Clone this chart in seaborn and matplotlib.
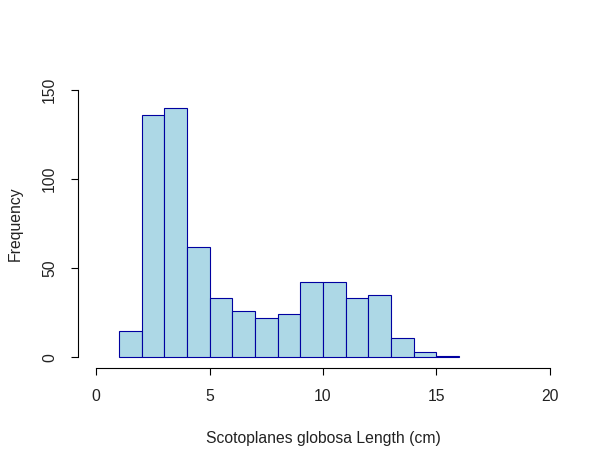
import numpy as np
import matplotlib
matplotlib.use("Agg")
import matplotlib.pyplot as plt
import seaborn as sns

# histogram counts (bins of width 1 cm, from 1 to 16)
bin_edges = [1, 2, 3, 4, 5, 6, 7, 8, 9, 10, 11, 12, 13, 14, 15, 16]
counts = [15, 136, 140, 62, 33, 26, 22, 24, 42, 42, 33, 35, 11, 3, 1]
x_ticks = [0, 5, 10, 15, 20]
y_ticks = [0, 50, 100, 150]

bin_mids = [(a + b) / 2 for a, b in zip(bin_edges[:-1], bin_edges[1:])]

sns.set_style("white")
plt.rcParams['font.family'] = ['Liberation Sans', 'DejaVu Sans']

fig = plt.figure(figsize=(6.09, 4.66), dpi=100)
ax = fig.add_axes([78 / 609, 1 - 368 / 466, 490 / 609, 289 / 466])

sns.histplot(x=bin_mids, weights=counts, bins=bin_edges, ax=ax,
             color="#ADD8E6", edgecolor="#0000A0", linewidth=0.8, alpha=1)

ax.set_xlim(-0.8, 20.8)
ax.set_ylim(-6, 156)
ax.set_xticks(x_ticks)
ax.set_yticks(y_ticks)

for s in ["top", "right"]:
    ax.spines[s].set_visible(False)
for s in ["left", "bottom"]:
    ax.spines[s].set_color("black")
    ax.spines[s].set_linewidth(0.8)
ax.spines["bottom"].set_bounds(0, 20)
ax.spines["left"].set_bounds(0, 150)

ax.tick_params(axis="both", direction="out", length=5.2, width=0.8,
               color="black", labelsize=11.3, pad=10, labelcolor="#222222")
ax.tick_params(axis="both", bottom=True, left=True)
plt.setp(ax.get_yticklabels(), rotation=90, va="center")

ax.set_xlabel("Scotoplanes globosa Length (cm)", fontsize=11.3, labelpad=19, color="#222222")
ax.set_ylabel("Frequency", fontsize=11.3, labelpad=14, color="#222222")
ax.grid(False)

fig.savefig("out.png", dpi=100)
